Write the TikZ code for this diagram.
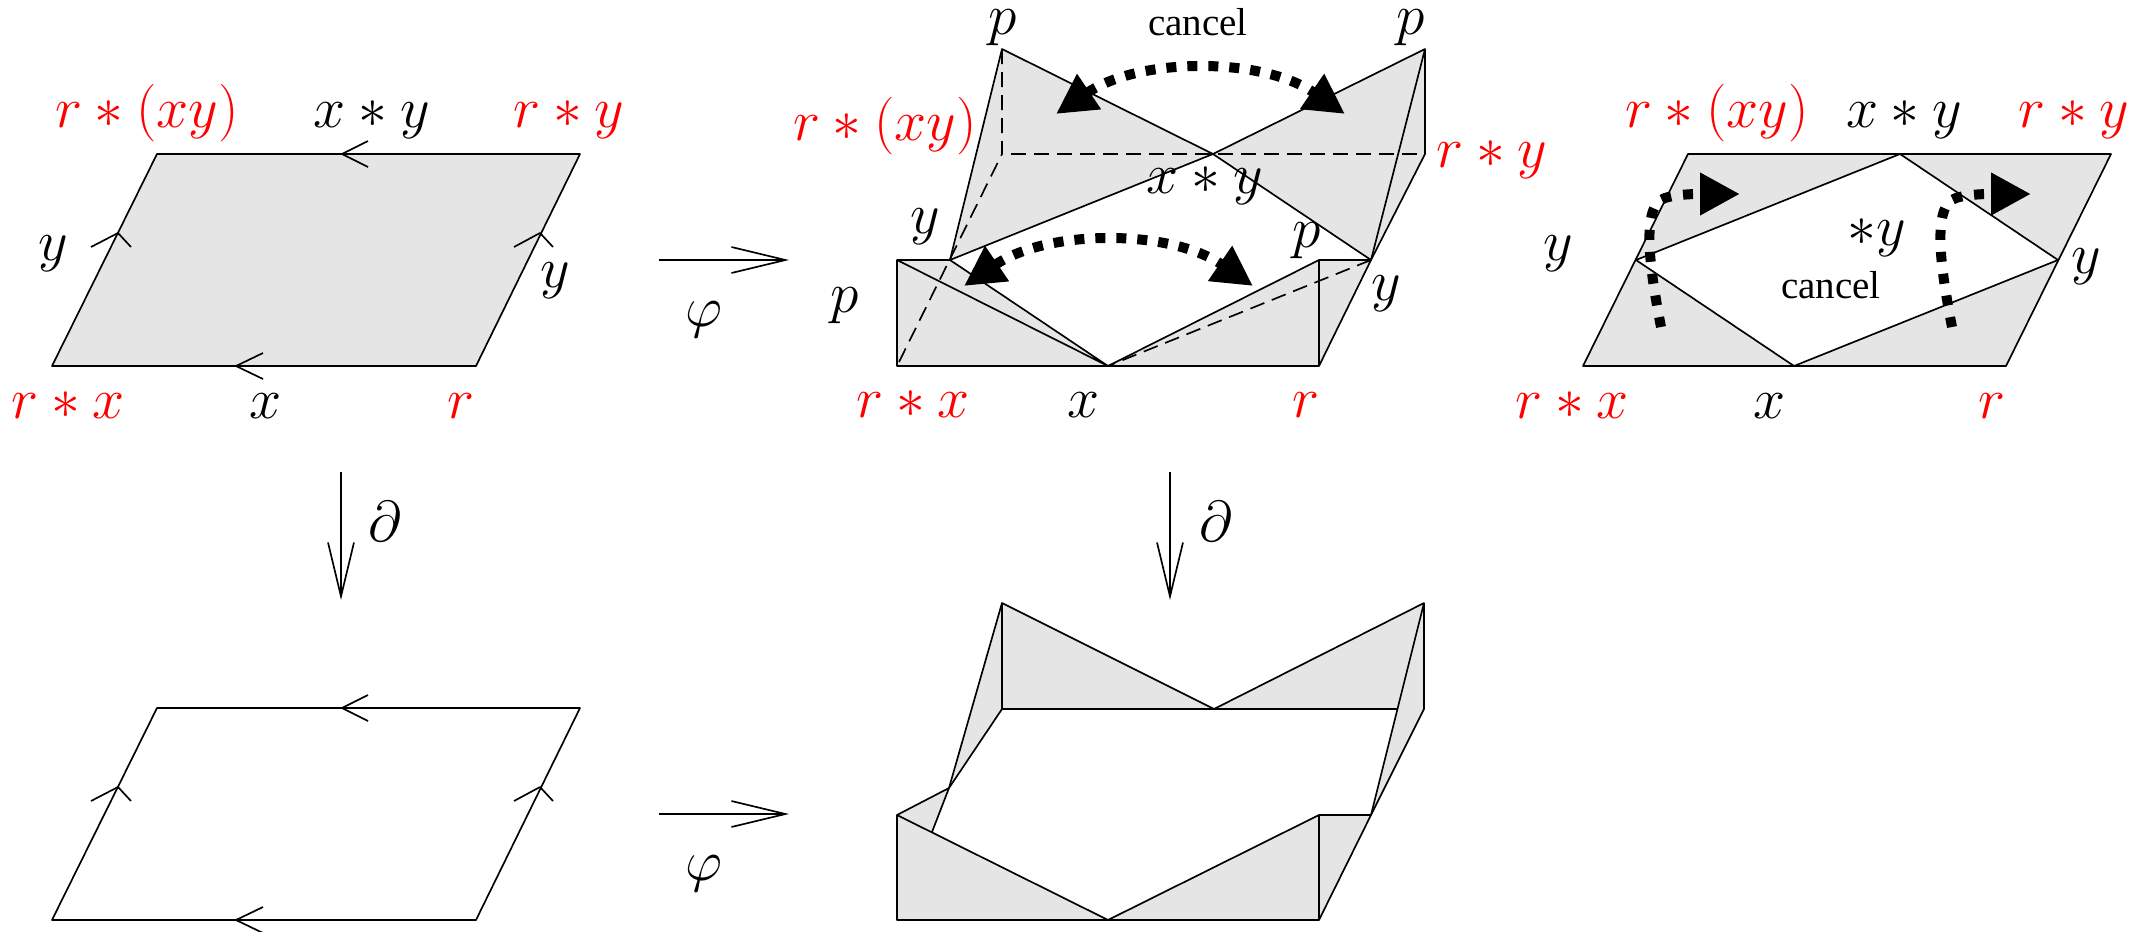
\documentclass[tikz,border=0pt]{standalone}
\usepackage{fontspec}
\newfontfamily\cancelfont{Liberation Serif}
\definecolor{pgray}{RGB}{229,229,229}
\definecolor{pred}{RGB}{255,0,0}
\usetikzlibrary{arrows.meta}
\tikzset{
  lbl/.style={anchor=base,inner sep=0pt,font=\LARGE},
  lblred/.style={lbl,text=pred},
  lblcancel/.style={anchor=base,inner sep=0pt,font=\cancelfont\fontsize{11.7}{14}\selectfont},
  maparrow/.style={-{Straight Barb[length=16.2pt,width=7.8pt,line width=0.5pt]}},
  cancelboth/.style={line width=3pt,dash pattern=on 3pt off 3.3pt,
    arrows={Triangle[length=12pt,width=12pt]-Triangle[length=12pt,width=12pt]}},
  cancelone/.style={line width=3pt,dash pattern=on 3pt off 3.6pt,
    arrows={-Triangle[length=12pt,width=12pt]}},
  thindash/.style={dash pattern=on 4.5pt off 2.4pt}
}
\begin{document}
\begin{tikzpicture}[x=0.3pt,y=-0.3pt,line width=0.5pt,line join=round]
  \useasboundingbox (0,0) rectangle (2133,932);
  %% Left column: square, then its boundary
  \fill[pgray] (52,366) -- (476,366) -- (580,154) -- (157,154) -- cycle;
  \foreach \dy in {0,554} {
    \draw (52,366+\dy) -- (476,366+\dy) -- (580,154+\dy) -- (157,154+\dy) -- cycle;
    \draw (368,141+\dy) -- (342,154+\dy) -- (368,167+\dy);
    \draw (263,353+\dy) -- (236,366+\dy) -- (263,379+\dy);
    \draw (91,247+\dy) -- (118,233+\dy) -- (131,247+\dy);
    \draw (514,247+\dy) -- (540,233+\dy) -- (553,247+\dy);
    %% Map phi
    \coordinate (phiA\dy) at (659,260+\dy);
    \coordinate (phiB\dy) at (789,260+\dy);
    \draw[maparrow] (phiA\dy) -- (phiB\dy);
    \node[lbl] (phi\dy) at (704,326+\dy) {$\varphi$};
  }
  %% Maps boundary
  \foreach \px/\qx [count=\i] in {341/385,1170/1216} {
    \coordinate (bdA\i) at (\px,472);
    \coordinate (bdB\i) at (\px,600);
    \draw[maparrow] (bdA\i) -- (bdB\i);
    \node[lbl] (bd\i) at (\qx,541) {$\partial$};
  }
  %% Labels on the square
  \node[lblred] (sqa) at (147,127) {$r*(xy)$};
  \node[lbl] (sqb) at (372,127) {$x*y$};
  \node[lblred] (sqc) at (569,127) {$r*y$};
  \node[lbl] (sqd) at (53,260) {$y$};
  \node[lbl] (sqe) at (555,287) {$y$};
  \node[lblred] (sqf) at (68,418) {$r*x$};
  \node[lbl] (sqg) at (266,418) {$x$};
  \node[lblred] (sqh) at (461,418) {$r$};
  %% Middle column, folded up
  \fill[pgray] (1002,49) -- (1213,154) -- (950,260) -- cycle;
  \fill[pgray] (1425,49) -- (1213,154) -- (1371,260) -- cycle;
  \fill[pgray] (1425,49) -- (1425,154) -- (1371,260) -- cycle;
  \fill[pgray] (897,260) -- (950,260) -- (1108,366) -- (897,366) -- cycle;
  \fill[pgray] (1319,260) -- (1371,260) -- (1319,366) -- (1108,366) -- cycle;
  \draw (950,260) -- (1002,49) -- (1213,154) -- (1371,260) -- (1319,366) -- (897,366) -- (897,260) -- (950,260) -- (1213,154) -- (1425,49) -- (1371,260) -- (1319,260) -- (1108,366);
  \draw (1425,49) -- (1425,154) -- (1371,260);
  \draw (897,260) -- (1108,366) -- (950,260);
  \draw (1319,260) -- (1319,366);
  \draw[thindash] (1002,49) -- (1002,154) -- (897,366);
  \draw[thindash] (1011,154) -- (1425,154);
  \draw[thindash] (1371,260) -- (1108,366);
  \node[lbl] (foa) at (1003,34) {$p$};
  \node[lbl] (fob) at (1411,34) {$p$};
  \node[lblcancel] (foc) at (1198,35) {cancel};
  \node[lblred] (fod) at (885,140) {$r*(xy)$};
  \node[lblred] (foe) at (1492,167) {$r*y$};
  \node[lbl] (fof) at (1205,193) {$x*y$};
  \node[lbl] (fog) at (925,233) {$y$};
  \node[lbl] (foh) at (1307,247) {$p$};
  \node[lbl] (foi) at (845,312) {$p$};
  \node[lbl] (foj) at (1386,300) {$y$};
  \node[lblred] (fok) at (913,417) {$r*x$};
  \node[lbl] (fol) at (1084,417) {$x$};
  \node[lblred] (fom) at (1306,417) {$r$};
  %% Cancel arrows
  \coordinate (caA) at (1056,114);
  \coordinate (caB) at (1345,114);
  \coordinate (cbA) at (964,286);
  \coordinate (cbB) at (1253,286);
  \draw[cancelboth] (caA) .. controls (1140,57) and (1262,57) .. (caB);
  \draw[cancelboth] (cbA) .. controls (1048,229) and (1170,229) .. (cbB);
  %% Middle column, bottom row
  \fill[pgray] (1002,603) -- (1214,709) -- (1002,709) -- cycle;
  \fill[pgray] (1424,603) -- (1214,709) -- (1398,709) -- cycle;
  \fill[pgray] (1002,603) -- (1002,709) -- (949,788) -- cycle;
  \fill[pgray] (1424,603) -- (1424,709) -- (1371,815) -- cycle;
  \fill[pgray] (897,815) -- (949,788) -- (932,832) -- cycle;
  \fill[pgray] (897,815) -- (1108,920) -- (897,920) -- cycle;
  \fill[pgray] (1319,815) -- (1371,815) -- (1319,920) -- (1108,920) -- cycle;
  \draw (949,788) -- (1002,603) -- (1214,709) -- (1424,603) -- (1371,815) -- (1319,815) -- (1108,920) -- (897,815) -- (949,788) -- (932,832);
  \draw (1424,603) -- (1424,709) -- (1371,815) -- (1319,920) -- (897,920) -- (897,815);
  \draw (1319,815) -- (1319,920);
  \draw (1002,603) -- (1002,709) -- (949,788);
  \draw (1002,709) -- (1398,709);
  %% Right column
  \fill[pgray] (1583,366) -- (2006,366) -- (2111,154) -- (1688,154) -- cycle;
  \fill[white] (1636,260) -- (1900,154) -- (2058,260) -- (1794,366) -- cycle;
  \draw (1583,366) -- (2006,366) -- (2111,154) -- (1688,154) -- cycle;
  \draw (1636,260) -- (1900,154) -- (2058,260) -- (1794,366) -- cycle;
  \node[lblred] (rga) at (1717,127) {$r*(xy)$};
  \node[lbl] (rgb) at (1904,127) {$x*y$};
  \node[lblred] (rgc) at (2074,127) {$r*y$};
  \node[lbl] (rgd) at (1558,260) {$y$};
  \node[lbl] (rge) at (2086,273) {$y$};
  \node[lbl] (rgf) at (1877,245) {$*y$};
  \node[lblcancel] (rgg) at (1831,298) {cancel};
  \node[lblred] (rgh) at (1572,418) {$r*x$};
  \node[lbl] (rgi) at (1770,418) {$x$};
  \node[lblred] (rgj) at (1992,418) {$r$};
  \coordinate (ccA) at (1661,327);
  \coordinate (ccB) at (1740,194);
  \coordinate (cdA) at (1952,327);
  \coordinate (cdB) at (2031,194);
  \draw[cancelone] (ccA) .. controls (1650,270) and (1640,205) .. (1665,198) .. controls (1680,193) and (1710,194) .. (ccB);
  \draw[cancelone] (cdA) .. controls (1941,270) and (1931,205) .. (1956,198) .. controls (1971,193) and (2001,194) .. (cdB);
\end{tikzpicture}
\end{document}
